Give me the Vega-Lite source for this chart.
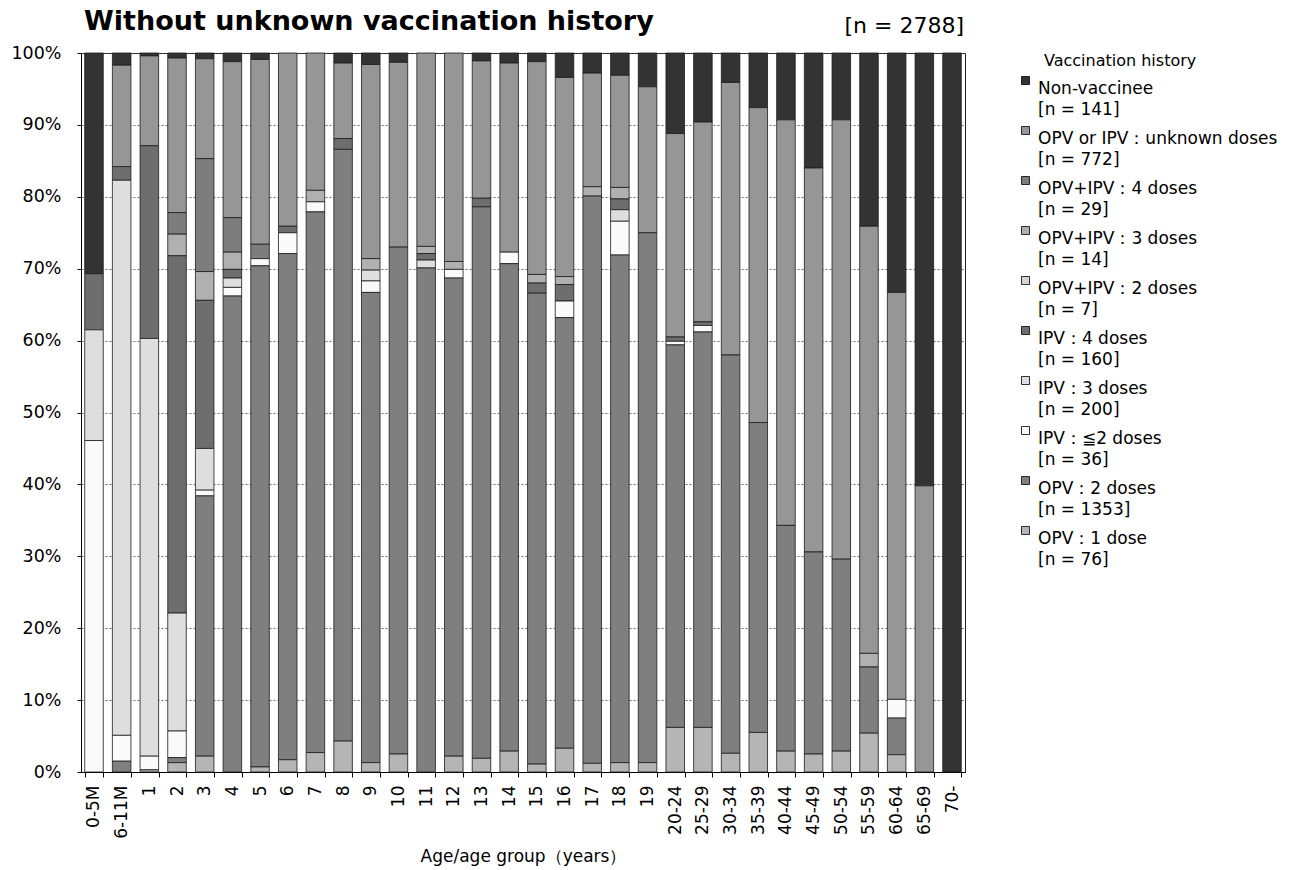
{
  "$schema": "https://vega.github.io/schema/vega-lite/v6.json",
  "autosize": "none",
  "padding": {"left": 81, "top": 53, "right": 350, "bottom": 98},
  "width": 884,
  "height": 719,
  "config": {
    "font": "DejaVu Sans",
    "view": {"stroke": "#222", "strokeWidth": 1},
    "axis": {"labelColor": "#000", "titleColor": "#000", "domainColor": "#000", "tickColor": "#000"}
  },
  "title": {
    "text": "Without unknown vaccination history",
    "anchor": "start",
    "frame": "group",
    "dx": 3,
    "offset": -21,
    "fontSize": 27,
    "fontWeight": "bold",
    "font": "DejaVu Sans",
    "color": "#000"
  },
  "datasets": {
    "cats": [
      {"c": "OPV：1 dose", "k": 0, "lab": "OPV：1 dose\n[n = 76]"},
      {"c": "OPV：2 doses", "k": 1, "lab": "OPV：2 doses\n[n = 1353]"},
      {"c": "IPV：≦2 doses", "k": 2, "lab": "IPV：≦2 doses\n[n = 36]"},
      {"c": "IPV：3 doses", "k": 3, "lab": "IPV：3 doses\n[n = 200]"},
      {"c": "IPV：4 doses", "k": 4, "lab": "IPV：4 doses\n[n = 160]"},
      {"c": "OPV+IPV：2 doses", "k": 5, "lab": "OPV+IPV：2 doses\n[n = 7]"},
      {"c": "OPV+IPV：3 doses", "k": 6, "lab": "OPV+IPV：3 doses\n[n = 14]"},
      {"c": "OPV+IPV：4 doses", "k": 7, "lab": "OPV+IPV：4 doses\n[n = 29]"},
      {"c": "OPV or IPV：unknown doses", "k": 8, "lab": "OPV or IPV：unknown doses\n[n = 772]"},
      {"c": "Non-vaccinee", "k": 9, "lab": "Non-vaccinee\n[n = 141]"}
    ],
    "rows": [
      {"a": "0-5M", "c": "Non-vaccinee", "v": 30.7},
      {"a": "0-5M", "c": "IPV：4 doses", "v": 7.8},
      {"a": "0-5M", "c": "IPV：3 doses", "v": 15.4},
      {"a": "0-5M", "c": "IPV：≦2 doses", "v": 46.1},
      {"a": "6-11M", "c": "Non-vaccinee", "v": 1.7},
      {"a": "6-11M", "c": "OPV or IPV：unknown doses", "v": 14.1},
      {"a": "6-11M", "c": "IPV：4 doses", "v": 1.9},
      {"a": "6-11M", "c": "IPV：3 doses", "v": 77.2},
      {"a": "6-11M", "c": "IPV：≦2 doses", "v": 3.6},
      {"a": "6-11M", "c": "OPV：2 doses", "v": 1.5},
      {"a": "1", "c": "Non-vaccinee", "v": 0.4},
      {"a": "1", "c": "OPV or IPV：unknown doses", "v": 12.5},
      {"a": "1", "c": "IPV：4 doses", "v": 26.8},
      {"a": "1", "c": "IPV：3 doses", "v": 58.1},
      {"a": "1", "c": "IPV：≦2 doses", "v": 1.9},
      {"a": "1", "c": "OPV：1 dose", "v": 0.3},
      {"a": "2", "c": "Non-vaccinee", "v": 0.7},
      {"a": "2", "c": "OPV or IPV：unknown doses", "v": 21.5},
      {"a": "2", "c": "OPV+IPV：4 doses", "v": 3.0},
      {"a": "2", "c": "OPV+IPV：3 doses", "v": 3.0},
      {"a": "2", "c": "IPV：4 doses", "v": 49.7},
      {"a": "2", "c": "IPV：3 doses", "v": 16.4},
      {"a": "2", "c": "IPV：≦2 doses", "v": 3.7},
      {"a": "2", "c": "OPV：2 doses", "v": 0.7},
      {"a": "2", "c": "OPV：1 dose", "v": 1.3},
      {"a": "3", "c": "Non-vaccinee", "v": 0.8},
      {"a": "3", "c": "OPV or IPV：unknown doses", "v": 13.9},
      {"a": "3", "c": "OPV+IPV：4 doses", "v": 15.7},
      {"a": "3", "c": "OPV+IPV：3 doses", "v": 4.0},
      {"a": "3", "c": "IPV：4 doses", "v": 20.6},
      {"a": "3", "c": "IPV：3 doses", "v": 5.8},
      {"a": "3", "c": "IPV：≦2 doses", "v": 0.8},
      {"a": "3", "c": "OPV：2 doses", "v": 36.2},
      {"a": "3", "c": "OPV：1 dose", "v": 2.2},
      {"a": "4", "c": "Non-vaccinee", "v": 1.2},
      {"a": "4", "c": "OPV or IPV：unknown doses", "v": 21.7},
      {"a": "4", "c": "OPV+IPV：4 doses", "v": 4.8},
      {"a": "4", "c": "OPV+IPV：3 doses", "v": 2.4},
      {"a": "4", "c": "IPV：4 doses", "v": 1.2},
      {"a": "4", "c": "IPV：3 doses", "v": 1.3},
      {"a": "4", "c": "IPV：≦2 doses", "v": 1.2},
      {"a": "4", "c": "OPV：2 doses", "v": 66.2},
      {"a": "5", "c": "Non-vaccinee", "v": 0.9},
      {"a": "5", "c": "OPV or IPV：unknown doses", "v": 25.7},
      {"a": "5", "c": "OPV+IPV：4 doses", "v": 2.0},
      {"a": "5", "c": "IPV：≦2 doses", "v": 1.0},
      {"a": "5", "c": "OPV：2 doses", "v": 69.7},
      {"a": "5", "c": "OPV：1 dose", "v": 0.7},
      {"a": "6", "c": "OPV or IPV：unknown doses", "v": 24.1},
      {"a": "6", "c": "IPV：4 doses", "v": 0.9},
      {"a": "6", "c": "IPV：≦2 doses", "v": 2.9},
      {"a": "6", "c": "OPV：2 doses", "v": 70.4},
      {"a": "6", "c": "OPV：1 dose", "v": 1.7},
      {"a": "7", "c": "OPV or IPV：unknown doses", "v": 19.1},
      {"a": "7", "c": "OPV+IPV：3 doses", "v": 1.6},
      {"a": "7", "c": "IPV：≦2 doses", "v": 1.4},
      {"a": "7", "c": "OPV：2 doses", "v": 75.2},
      {"a": "7", "c": "OPV：1 dose", "v": 2.7},
      {"a": "8", "c": "Non-vaccinee", "v": 1.4},
      {"a": "8", "c": "OPV or IPV：unknown doses", "v": 10.5},
      {"a": "8", "c": "IPV：4 doses", "v": 1.5},
      {"a": "8", "c": "OPV：2 doses", "v": 82.3},
      {"a": "8", "c": "OPV：1 dose", "v": 4.3},
      {"a": "9", "c": "Non-vaccinee", "v": 1.6},
      {"a": "9", "c": "OPV or IPV：unknown doses", "v": 27.0},
      {"a": "9", "c": "OPV+IPV：3 doses", "v": 1.6},
      {"a": "9", "c": "IPV：3 doses", "v": 1.5},
      {"a": "9", "c": "IPV：≦2 doses", "v": 1.6},
      {"a": "9", "c": "OPV：2 doses", "v": 65.4},
      {"a": "9", "c": "OPV：1 dose", "v": 1.3},
      {"a": "10", "c": "Non-vaccinee", "v": 1.3},
      {"a": "10", "c": "OPV or IPV：unknown doses", "v": 25.7},
      {"a": "10", "c": "OPV：2 doses", "v": 70.5},
      {"a": "10", "c": "OPV：1 dose", "v": 2.5},
      {"a": "11", "c": "OPV or IPV：unknown doses", "v": 26.9},
      {"a": "11", "c": "OPV+IPV：3 doses", "v": 1.0},
      {"a": "11", "c": "IPV：4 doses", "v": 0.9},
      {"a": "11", "c": "IPV：3 doses", "v": 1.1},
      {"a": "11", "c": "OPV：2 doses", "v": 70.1},
      {"a": "12", "c": "OPV or IPV：unknown doses", "v": 29.0},
      {"a": "12", "c": "OPV+IPV：3 doses", "v": 1.1},
      {"a": "12", "c": "IPV：≦2 doses", "v": 1.2},
      {"a": "12", "c": "OPV：2 doses", "v": 66.5},
      {"a": "12", "c": "OPV：1 dose", "v": 2.2},
      {"a": "13", "c": "Non-vaccinee", "v": 1.1},
      {"a": "13", "c": "OPV or IPV：unknown doses", "v": 19.1},
      {"a": "13", "c": "IPV：4 doses", "v": 1.2},
      {"a": "13", "c": "OPV：2 doses", "v": 76.7},
      {"a": "13", "c": "OPV：1 dose", "v": 1.9},
      {"a": "14", "c": "Non-vaccinee", "v": 1.4},
      {"a": "14", "c": "OPV or IPV：unknown doses", "v": 26.3},
      {"a": "14", "c": "IPV：≦2 doses", "v": 1.6},
      {"a": "14", "c": "OPV：2 doses", "v": 67.8},
      {"a": "14", "c": "OPV：1 dose", "v": 2.9},
      {"a": "15", "c": "Non-vaccinee", "v": 1.2},
      {"a": "15", "c": "OPV or IPV：unknown doses", "v": 29.6},
      {"a": "15", "c": "OPV+IPV：3 doses", "v": 1.2},
      {"a": "15", "c": "IPV：4 doses", "v": 1.4},
      {"a": "15", "c": "OPV：2 doses", "v": 65.5},
      {"a": "15", "c": "OPV：1 dose", "v": 1.1},
      {"a": "16", "c": "Non-vaccinee", "v": 3.4},
      {"a": "16", "c": "OPV or IPV：unknown doses", "v": 27.7},
      {"a": "16", "c": "OPV+IPV：3 doses", "v": 1.1},
      {"a": "16", "c": "IPV：4 doses", "v": 2.3},
      {"a": "16", "c": "IPV：≦2 doses", "v": 2.3},
      {"a": "16", "c": "OPV：2 doses", "v": 59.9},
      {"a": "16", "c": "OPV：1 dose", "v": 3.3},
      {"a": "17", "c": "Non-vaccinee", "v": 2.8},
      {"a": "17", "c": "OPV or IPV：unknown doses", "v": 15.8},
      {"a": "17", "c": "OPV+IPV：3 doses", "v": 1.3},
      {"a": "17", "c": "OPV：2 doses", "v": 78.9},
      {"a": "17", "c": "OPV：1 dose", "v": 1.2},
      {"a": "18", "c": "Non-vaccinee", "v": 3.1},
      {"a": "18", "c": "OPV or IPV：unknown doses", "v": 15.6},
      {"a": "18", "c": "OPV+IPV：3 doses", "v": 1.6},
      {"a": "18", "c": "IPV：4 doses", "v": 1.5},
      {"a": "18", "c": "IPV：3 doses", "v": 1.6},
      {"a": "18", "c": "IPV：≦2 doses", "v": 4.7},
      {"a": "18", "c": "OPV：2 doses", "v": 70.6},
      {"a": "18", "c": "OPV：1 dose", "v": 1.3},
      {"a": "19", "c": "Non-vaccinee", "v": 4.7},
      {"a": "19", "c": "OPV or IPV：unknown doses", "v": 20.3},
      {"a": "19", "c": "OPV：2 doses", "v": 73.7},
      {"a": "19", "c": "OPV：1 dose", "v": 1.3},
      {"a": "20-24", "c": "Non-vaccinee", "v": 11.2},
      {"a": "20-24", "c": "OPV or IPV：unknown doses", "v": 28.3},
      {"a": "20-24", "c": "IPV：4 doses", "v": 0.6},
      {"a": "20-24", "c": "IPV：≦2 doses", "v": 0.5},
      {"a": "20-24", "c": "OPV：2 doses", "v": 53.2},
      {"a": "20-24", "c": "OPV：1 dose", "v": 6.2},
      {"a": "25-29", "c": "Non-vaccinee", "v": 9.6},
      {"a": "25-29", "c": "OPV or IPV：unknown doses", "v": 27.8},
      {"a": "25-29", "c": "IPV：4 doses", "v": 0.5},
      {"a": "25-29", "c": "IPV：≦2 doses", "v": 0.9},
      {"a": "25-29", "c": "OPV：2 doses", "v": 55.0},
      {"a": "25-29", "c": "OPV：1 dose", "v": 6.2},
      {"a": "30-34", "c": "Non-vaccinee", "v": 4.1},
      {"a": "30-34", "c": "OPV or IPV：unknown doses", "v": 37.9},
      {"a": "30-34", "c": "OPV：2 doses", "v": 55.4},
      {"a": "30-34", "c": "OPV：1 dose", "v": 2.6},
      {"a": "35-39", "c": "Non-vaccinee", "v": 7.6},
      {"a": "35-39", "c": "OPV or IPV：unknown doses", "v": 43.8},
      {"a": "35-39", "c": "OPV：2 doses", "v": 43.1},
      {"a": "35-39", "c": "OPV：1 dose", "v": 5.5},
      {"a": "40-44", "c": "Non-vaccinee", "v": 9.3},
      {"a": "40-44", "c": "OPV or IPV：unknown doses", "v": 56.4},
      {"a": "40-44", "c": "OPV：2 doses", "v": 31.4},
      {"a": "40-44", "c": "OPV：1 dose", "v": 2.9},
      {"a": "45-49", "c": "Non-vaccinee", "v": 16.0},
      {"a": "45-49", "c": "OPV or IPV：unknown doses", "v": 53.4},
      {"a": "45-49", "c": "OPV：2 doses", "v": 28.1},
      {"a": "45-49", "c": "OPV：1 dose", "v": 2.5},
      {"a": "50-54", "c": "Non-vaccinee", "v": 9.3},
      {"a": "50-54", "c": "OPV or IPV：unknown doses", "v": 61.1},
      {"a": "50-54", "c": "OPV：2 doses", "v": 26.7},
      {"a": "50-54", "c": "OPV：1 dose", "v": 2.9},
      {"a": "55-59", "c": "Non-vaccinee", "v": 24.1},
      {"a": "55-59", "c": "OPV or IPV：unknown doses", "v": 59.4},
      {"a": "55-59", "c": "OPV+IPV：3 doses", "v": 1.9},
      {"a": "55-59", "c": "OPV：2 doses", "v": 9.2},
      {"a": "55-59", "c": "OPV：1 dose", "v": 5.4},
      {"a": "60-64", "c": "Non-vaccinee", "v": 33.3},
      {"a": "60-64", "c": "OPV or IPV：unknown doses", "v": 56.6},
      {"a": "60-64", "c": "IPV：≦2 doses", "v": 2.6},
      {"a": "60-64", "c": "OPV：2 doses", "v": 5.1},
      {"a": "60-64", "c": "OPV：1 dose", "v": 2.4},
      {"a": "65-69", "c": "Non-vaccinee", "v": 60.2},
      {"a": "65-69", "c": "OPV or IPV：unknown doses", "v": 39.8},
      {"a": "70-", "c": "Non-vaccinee", "v": 100}
    ],
    "note": [{"t": "[n = 2788]"}]
  },
  "encoding": {
    "x": {
      "field": "a",
      "type": "nominal",
      "sort": null,
      "scale": {"paddingInner": 0.33, "paddingOuter": 0.134},
      "axis": {
        "title": "Age/age group（years）",
        "titleFontSize": 17,
        "titleFontWeight": "normal",
        "titlePadding": 10,
        "labelAngle": -90,
        "labelFontSize": 17,
        "labelPadding": 8,
        "tickBand": "extent",
        "tickSize": 5,
        "domainWidth": 1
      }
    },
    "y": {
      "type": "quantitative",
      "scale": {"domain": [0, 1]},
      "axis": {
        "title": null,
        "format": ".0%",
        "values": [0, 0.1, 0.2, 0.3, 0.4, 0.5, 0.6, 0.7, 0.8, 0.9, 1],
        "labelFontSize": 17.5,
        "labelPadding": 16,
        "tickSize": 4,
        "grid": true,
        "gridColor": "#444",
        "gridDash": [2, 2],
        "gridWidth": 0.8
      }
    }
  },
  "layer": [
    {
      "data": {"name": "rows"},
      "transform": [
        {"lookup": "c", "from": {"data": {"name": "cats"}, "key": "c", "fields": ["k", "lab"]}}
      ],
      "mark": {"type": "bar", "stroke": "#1a1a1a", "strokeWidth": 0.8},
      "encoding": {
        "y": {"field": "v", "type": "quantitative", "stack": "normalize"},
        "order": {"field": "k", "type": "quantitative", "sort": "ascending"},
        "color": {
          "field": "lab",
          "type": "nominal",
          "scale": {
            "domain": [
              "Non-vaccinee\n[n = 141]",
              "OPV or IPV：unknown doses\n[n = 772]",
              "OPV+IPV：4 doses\n[n = 29]",
              "OPV+IPV：3 doses\n[n = 14]",
              "OPV+IPV：2 doses\n[n = 7]",
              "IPV：4 doses\n[n = 160]",
              "IPV：3 doses\n[n = 200]",
              "IPV：≦2 doses\n[n = 36]",
              "OPV：2 doses\n[n = 1353]",
              "OPV：1 dose\n[n = 76]"
            ],
            "range": ["#333333", "#969696", "#7d7d7d", "#b0b0b0", "#d4d4d4", "#6e6e6e", "#dedede", "#fafafa", "#7f7f7f", "#b5b5b5"]
          },
          "legend": {
            "title": "Vaccination history",
            "titleFontSize": 16,
            "titleFontWeight": "normal",
            "titleColor": "#000",
            "titlePadding": 3,
            "offset": 52,
            "labelFontSize": 17,
            "labelColor": "#000",
            "labelLimit": 400,
            "labelExpr": "split(datum.label, '\\n')",
            "labelBaseline": "top",
            "rowPadding": 4,
            "symbolType": "square",
            "symbolSize": 64,
            "symbolStrokeColor": "#000",
            "symbolStrokeWidth": 0.8,
            "symbolOpacity": 1,
            "encode": {
              "labels": {"update": {"lineHeight": {"value": 21}}},
              "title": {"update": {"dx": {"value": 27}}}
            }
          }
        }
      }
    },
    {
      "data": {"name": "note"},
      "mark": {"type": "text", "align": "right", "baseline": "alphabetic", "dx": 12, "dy": -20, "fontSize": 22, "color": "#000"},
      "encoding": {
        "x": {"datum": "70-"},
        "y": {"datum": 1},
        "text": {"field": "t"}
      }
    }
  ]
}
